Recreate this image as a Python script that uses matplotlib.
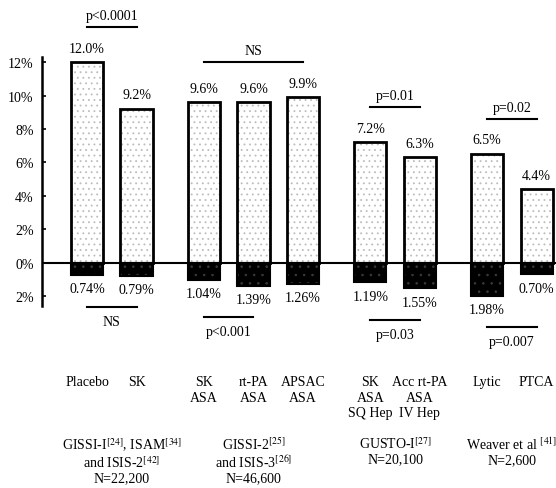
import matplotlib
matplotlib.use("Agg")
import matplotlib.pyplot as plt
import numpy as np

plt.rcParams['font.family'] = ['Liberation Serif', 'DejaVu Serif']
plt.rcParams['mathtext.fontset'] = 'stix'
plt.rcParams['hatch.linewidth'] = 0.6

# Data
treatments = ["Placebo", "SK", "SK\nASA", "rt-PA\nASA", "APSAC\nASA",
              "SK\nASA\nSQ Hep", "Acc rt-PA\nASA\nIV Hep", "Lytic", "PTCA"]
group_of = [0, 0, 1, 1, 1, 2, 2, 3, 3]
mortality = [12.0, 9.2, 9.6, 9.6, 9.9, 7.2, 6.3, 6.5, 4.4]
stroke = [0.74, 0.79, 1.04, 1.39, 1.26, 1.19, 1.55, 1.98, 0.70]
ytick_vals = [12, 10, 8, 6, 4, 2, 0, -2]
ytick_labels = ["12%", "10%", "8%", "6%", "4%", "2%", "0%", "2%"]

groups = ["GISSI-I$^{[24]}$, ISAM$^{[34]}$\nand ISIS-2$^{[42]}$\nN=22,200",
          "GISSI-2$^{[25]}$\nand ISIS-3$^{[26]}$\nN=46,600",
          "GUSTO-I$^{[27]}$\nN=20,100",
          "Weaver et al $^{[41]}$\nN=2,600"]

# comparisons: (bar i, bar j, label)
upper_tests = [(0, 1, "p<0.0001"), (2, 4, "NS"), (5, 6, "p=0.01"), (7, 8, "p=0.02")]
lower_tests = [(0, 1, "NS"), (2, 3, "p<0.001"), (5, 6, "p=0.03"), (7, 8, "p=0.007")]

# positions: unit step inside a group, extra gap between groups
x = np.array([i + 0.36 * g for i, g in enumerate(group_of)])
w = 0.65

fig = plt.figure(figsize=(5.56, 4.89), dpi=100)
ax = fig.add_axes([42 / 556, 0, 1 - 42 / 556, 1])
ax.set_xlim(-0.91, 9.47)
ax.set_ylim(-13.5, 15.78)

# upper stippled bars
ax.bar(x, mortality, w, color="white", hatch="...", edgecolor="#bcbcbc", linewidth=0)
ax.bar(x, mortality, w, fill=False, edgecolor="black", linewidth=2)
# lower black bars
neg = [-s for s in stroke]
ax.bar(x, neg, w, color="black", hatch="..", edgecolor="#3a3a3a", linewidth=0)
ax.bar(x, neg, w, fill=False, edgecolor="black", linewidth=1.5)

ax.axhline(0, color="black", linewidth=1.5)

fs = 10
for xi, m in zip(x, mortality):
    ax.text(xi, m + 0.45, f"{m:.1f}%", ha="center", va="bottom", fontsize=fs)
for xi, s in zip(x, stroke):
    ax.text(xi, -s - 0.45, f"{s:.2f}%", ha="center", va="top", fontsize=fs)

for i, j, lab in upper_tests:
    top = max(mortality[i:j + 1])
    y = top + 2.1
    ax.plot([x[i], x[j]], [y, y], color="black", linewidth=1.5)
    ax.text((x[i] + x[j]) / 2, y + 0.3, lab, ha="center", va="bottom", fontsize=fs)

for i, j, lab in lower_tests:
    bot = max(stroke[i:j + 1])
    y = -bot - 1.9
    ax.plot([x[i], x[j]], [y, y], color="black", linewidth=1.5)
    ax.text((x[i] + x[j]) / 2, y - 0.45, lab, ha="center", va="top", fontsize=fs)

# category labels
for xi, t in zip(x, treatments):
    ax.text(xi, -6.75, t, ha="center", va="top", fontsize=fs, linespacing=1.25)

# group labels
for g, lab in enumerate(groups):
    idx = [k for k, gg in enumerate(group_of) if gg == g]
    gx = x[idx].mean()
    if g == 0:
        gx += 0.2
    ax.text(gx, -10.35, lab, ha="center", va="top", fontsize=fs, linespacing=1.1)

ax.set_yticks(ytick_vals)
ax.set_yticklabels(ytick_labels, fontsize=fs)
ax.tick_params(axis="y", direction="in", length=3, width=1.2, pad=6)
ax.set_xticks([])
for s in ["top", "right", "bottom"]:
    ax.spines[s].set_visible(False)
ax.spines["left"].set_bounds(-2.6, 12.3)
ax.spines["left"].set_linewidth(1.8)
ax.patch.set_alpha(0)

fig.savefig("out.png", dpi=100)
